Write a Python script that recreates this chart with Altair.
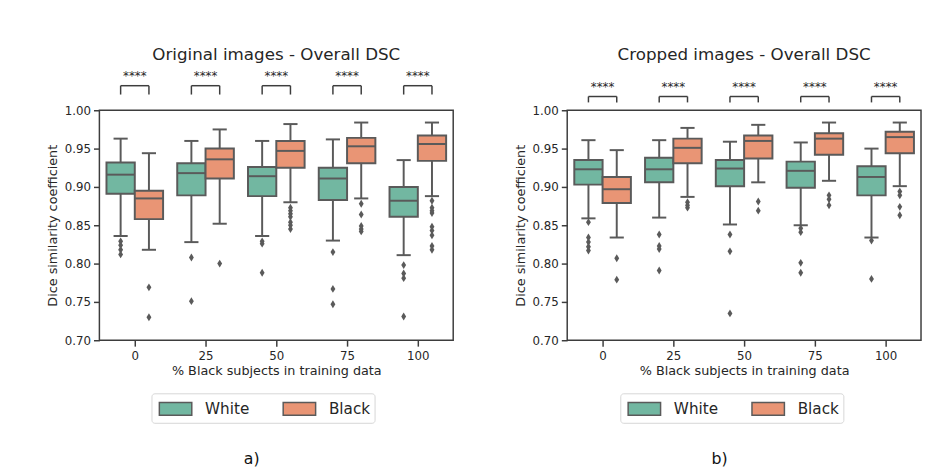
import json
import altair as alt
import pandas as pd

categories = ["0", "25", "50", "75", "100"]
groups = ["White", "Black"]
group_colors = ["#72b7a1", "#e99575"]
significance = ["****", "****", "****", "****", "****"]
panel_titles = ["Original images - Overall DSC", "Cropped images - Overall DSC"]
panel_labels = ["a)", "b)"]

# box statistics per category: (lower whisker, Q1, median, Q3, upper whisker)
orig_white = [
    (0.836, 0.891, 0.916, 0.932, 0.963),
    (0.828, 0.889, 0.918, 0.931, 0.960),
    (0.836, 0.888, 0.914, 0.926, 0.960),
    (0.830, 0.883, 0.911, 0.925, 0.962),
    (0.811, 0.861, 0.882, 0.900, 0.935),
]
orig_black = [
    (0.818, 0.858, 0.885, 0.895, 0.944),
    (0.852, 0.911, 0.936, 0.950, 0.975),
    (0.880, 0.925, 0.947, 0.960, 0.982),
    (0.885, 0.931, 0.953, 0.964, 0.984),
    (0.888, 0.934, 0.956, 0.967, 0.984),
]
orig_white_out = [
    [0.829, 0.824, 0.818, 0.812],
    [0.808, 0.751],
    [0.829, 0.826, 0.788],
    [0.815, 0.767, 0.747],
    [0.798, 0.787, 0.781, 0.731],
]
orig_black_out = [
    [0.769, 0.730],
    [0.800],
    [0.873, 0.869, 0.865, 0.861, 0.854, 0.850, 0.845],
    [0.878, 0.864, 0.849, 0.845, 0.842],
    [0.882, 0.873, 0.869, 0.866, 0.848, 0.843, 0.837, 0.823, 0.818],
]

crop_white = [
    (0.859, 0.903, 0.923, 0.935, 0.961),
    (0.860, 0.906, 0.923, 0.938, 0.961),
    (0.851, 0.901, 0.924, 0.935, 0.959),
    (0.850, 0.899, 0.921, 0.933, 0.958),
    (0.834, 0.889, 0.913, 0.927, 0.950),
]
crop_black = [
    (0.834, 0.879, 0.897, 0.913, 0.948),
    (0.887, 0.931, 0.951, 0.963, 0.977),
    (0.906, 0.937, 0.960, 0.967, 0.981),
    (0.908, 0.942, 0.963, 0.970, 0.984),
    (0.901, 0.944, 0.965, 0.972, 0.984),
]
crop_white_out = [
    [0.854, 0.834, 0.828, 0.822, 0.817],
    [0.838, 0.823, 0.819, 0.791],
    [0.838, 0.816, 0.735],
    [0.846, 0.841, 0.801, 0.788],
    [0.830, 0.780],
]
crop_black_out = [
    [0.807, 0.779],
    [0.880, 0.876, 0.873],
    [0.881, 0.869],
    [0.889, 0.884, 0.876],
    [0.894, 0.889, 0.874, 0.863],
]

FONT = "DejaVu Sans"
TXT = "#262626"
LINE = "#5a5a5a"
FRAME = "#3d3d3d"
HALF = 0.2  # half box width (category units)


def build_frames(white, black, white_out, black_out):
    rows, outs, sig = [], [], []
    for gi, (g, stats, outl) in enumerate([("White", white, white_out), ("Black", black, black_out)]):
        off = -HALF if gi == 0 else HALF
        for ci, s in enumerate(stats):
            p = ci + off
            rows.append(dict(group=g, pos=p, x1=p - HALF, x2=p + HALF,
                             c1=p - HALF / 2, c2=p + HALF / 2,
                             low=s[0], q1=s[1], med=s[2], q3=s[3], high=s[4]))
            for v in outl[ci]:
                outs.append(dict(group=g, pos=p, val=v))
    for ci, lab in enumerate(significance):
        sig.append(dict(xl=ci - HALF, xr=ci + HALF, xm=ci, label=lab))
    return pd.DataFrame(rows), pd.DataFrame(outs), pd.DataFrame(sig)


xscale = alt.Scale(domain=[-0.5, 4.5], nice=False, zero=False)
yscale = alt.Scale(domain=[0.70, 1.00], nice=False, zero=False)
xaxis = alt.Axis(values=[0, 1, 2, 3, 4], labelExpr=json.dumps(categories) + "[datum.value]",
                 title="% Black subjects in training data", grid=False,
                 labelPadding=5, titlePadding=3)
yaxis = alt.Axis(values=[0.70, 0.75, 0.80, 0.85, 0.90, 0.95, 1.00], format=".2f",
                 title="Dice similarity coefficient", grid=False)


def X(f):
    return alt.X(f, type="quantitative", scale=xscale, axis=xaxis)


def Y(f):
    return alt.Y(f, type="quantitative", scale=yscale, axis=yaxis)


def panel(white, black, white_out, black_out, title, label, legx, legy,
          br_top, br_bot, star_y, lab_y, title_offset):
    box, out, sig = build_frames(white, black, white_out, black_out)
    base = alt.Chart(box)
    w_lo = base.mark_rule(color=LINE, strokeWidth=2).encode(x=X("pos"), y=Y("low"), y2="q1")
    w_hi = base.mark_rule(color=LINE, strokeWidth=2).encode(x=X("pos"), y=Y("q3"), y2="high")
    cap_lo = base.mark_rule(color=LINE, strokeWidth=2).encode(x=X("c1"), x2="c2", y=Y("low"))
    cap_hi = base.mark_rule(color=LINE, strokeWidth=2).encode(x=X("c1"), x2="c2", y=Y("high"))
    boxes = base.mark_bar(stroke=LINE, strokeWidth=2, opacity=1).encode(
        x=X("x1"), x2="x2", y=Y("q1"), y2="q3",
        color=alt.Color("group:N", scale=alt.Scale(domain=groups, range=group_colors),
                        legend=alt.Legend(orient="none", legendX=legx, legendY=legy,
                                          direction="horizontal", title=None,
                                          symbolType="M-0.75,-0.65H2.55V0.65H-0.75Z", symbolSize=400,
                                          symbolStrokeColor=LINE, symbolStrokeWidth=1.5,
                                          labelFontSize=15.5, labelFont=FONT, labelColor=TXT,
                                          labelOffset=28, columnPadding=30, padding=4.5,
                                          strokeColor="#d6d6d6", cornerRadius=3,
                                          fillColor="white")),
    )
    med = base.mark_rule(color=LINE, strokeWidth=2).encode(x=X("x1"), x2="x2", y=Y("med"))
    pts = alt.Chart(out).mark_point(shape="M0,-1L0.62,0L0,1L-0.62,0Z", filled=True, size=64,
                                    color=LINE, opacity=1).encode(x=X("pos"), y=Y("val"))
    sbase = alt.Chart(sig)
    br_h = sbase.mark_rule(color=FRAME, strokeWidth=1.5).encode(x=X("xl"), x2="xr", y=alt.value(br_top))
    br_l = sbase.mark_rule(color=FRAME, strokeWidth=1.5).encode(x=X("xl"), y=alt.value(br_top), y2=alt.value(br_bot))
    br_r = sbase.mark_rule(color=FRAME, strokeWidth=1.5).encode(x=X("xr"), y=alt.value(br_top), y2=alt.value(br_bot))
    stars = sbase.mark_text(font=FONT, fontSize=12, color=TXT).encode(
        x=X("xm"), y=alt.value(star_y), text="label:N")
    lab = alt.Chart(pd.DataFrame({"t": [label]})).mark_text(
        font=FONT, fontSize=16, color="#111111").encode(
        x=alt.value(155), y=alt.value(lab_y), text="t:N")
    return alt.layer(w_lo, w_hi, cap_lo, cap_hi, boxes, med, pts, br_h, br_l, br_r, stars, lab).properties(
        width=360, height=234,
        title=alt.TitleParams(title, fontSize=17, font=FONT, color=TXT, fontWeight="normal",
                              offset=title_offset),
    )


left = panel(orig_white, orig_black, orig_white_out, orig_black_out, panel_titles[0], panel_labels[0],
             53, 288, -25, -16, -35, 355, 6)
right = panel(crop_white, crop_black, crop_white_out, crop_black_out, panel_titles[1], panel_labels[1],
              54, 288, -14, -8, -24, 355, 17)

chart = alt.hconcat(left, right, spacing=60).resolve_scale(color="independent").configure(
    padding={"left": 38, "top": 34, "right": 0, "bottom": 0},
    font=FONT,
).configure_view(stroke=FRAME, strokeWidth=1.5).configure_axis(
    domain=False, tickColor=FRAME, tickWidth=1.5, tickSize=6,
    labelFont=FONT, labelFontSize=12, labelColor=TXT, labelPadding=3,
    titleFont=FONT, titleFontSize=13, titleColor=TXT, titleFontWeight="normal", titlePadding=5,
)

chart.save("out.html", embed_options={"renderer": "svg", "actions": False})
